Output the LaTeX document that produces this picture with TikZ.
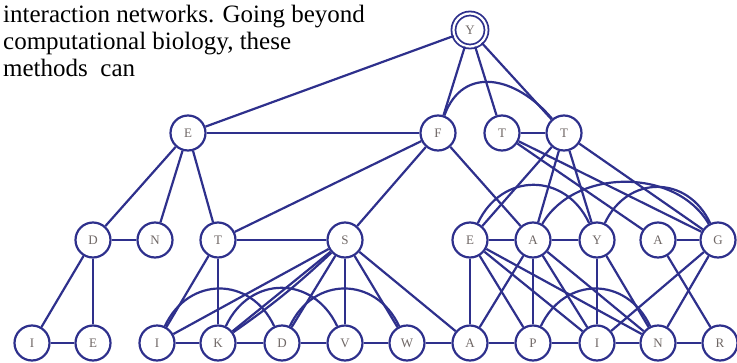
\documentclass[tikz,border=0pt]{standalone}
\usepackage{fontspec}
\setmainfont{Liberation Serif}
\usepackage{xcolor}
\definecolor{netblue}{RGB}{46,48,140}
\definecolor{labelgray}{RGB}{112,104,102}

\begin{document}
\begin{tikzpicture}[x=1pt, y=-1pt,
    vertex/.style={circle, draw=netblue, line width=2.2pt, fill=white,
        minimum size=35pt, inner sep=0pt, text=labelgray,
        font=\fontsize{13}{13}\selectfont},
    link/.style={netblue, line width=2.2pt},
    hop/.style={out=65, in=115, looseness=1.3},
    textline/.style={anchor=base west, inner sep=0pt,
        font=\fontsize{25}{27}\selectfont}]
    \useasboundingbox (0,0) rectangle (737,362);

    % Text running round the picture
    \node[textline] (line1) at (3,22) {interaction networks. Going beyond};
    \node[textline] (line2) at (3,49) {computational biology, these};
    \node[textline] (line3) at (3,76) {methods\ \ can};

    % The root, drawn with a double ring
    \node[vertex, minimum size=33pt, line width=1.8pt, double=white,
        double distance=2.2pt] (r1y) at (470,30) {Y};

    % Place the nodes row by row
    \foreach \n/\x/\l in {r2e/188/E, r2f/438/F, r2t/502/T, r2tt/564/T} {
        \node[vertex] (\n) at (\x,133) {\l};
    }
    \foreach \n/\x/\l in {r3d/93/D, r3n/155/N, r3t/218/T, r3s/345/S,
        r3e/470/E, r3a/533/A, r3y/597/Y, r3aa/658/A, r3g/718/G} {
        \node[vertex] (\n) at (\x,240) {\l};
    }
    \foreach \n/\x/\l in {r4i/32/I, r4e/93/E, r4ii/157/I, r4k/218/K,
        r4d/282/D, r4v/345/V, r4w/407/W, r4a/470/A, r4p/533/P,
        r4iii/597/I, r4n/658/N, r4r/720/R} {
        \node[vertex] (\n) at (\x,343) {\l};
    }

    % Edges from the top two rows
    \draw[link] (r1y) -- (r2e);
    \draw[link] (r1y) -- (r2f);
    \draw[link] (r1y) -- (r2t);
    \draw[link] (r1y) -- (r2tt);
    \draw[link] (r2f) to[out=70, in=130, looseness=1.3] (r2tt);
    \draw[link] (r2e) -- (r2f);
    \draw[link] (r2t) -- (r2tt);
    \foreach \a/\b in {r2e/r3d, r2e/r3n, r2e/r3t, r2f/r3t, r2f/r3s,
        r2f/r3a, r2t/r3aa, r2t/r3g, r2tt/r3e, r2tt/r3a, r2tt/r3y,
        r2tt/r3g} {
        \draw[link] (\a) -- (\b);
    }

    % Left half, rows three and four
    \foreach \a/\b in {r3d/r3n, r3t/r3s, r3d/r4i, r3d/r4e, r3t/r4ii,
        r3t/r4k, r3s/r4ii, r3s/r4k, r3s/r4d, r3s/r4v, r3s/r4w, r3s/r4a} {
        \draw[link] (\a) -- (\b);
    }
    \draw[link] (r3s) to[bend left=4] (r4k);
    \draw[link] (r4ii) to[hop] (r4d);
    \draw[link] (r4k) to[hop] (r4v);
    \draw[link] (r4d) to[hop] (r4w);

    % Right half, rows three and four
    \foreach \a/\b in {r3e/r3a, r3a/r3y, r3aa/r3g, r3e/r4a, r3e/r4p,
        r3e/r4iii, r3e/r4n, r3a/r4a, r3a/r4p, r3a/r4iii, r3a/r4n,
        r3y/r4iii, r3y/r4n, r3aa/r4r, r3g/r4iii, r3g/r4n} {
        \draw[link] (\a) -- (\b);
    }
    \draw[link] (r3e) to[hop] (r3y);
    \draw[link] (r3y) to[hop] (r3g);
    \draw[link] (r3a) to[out=60, in=120] (r3g);
    \draw[link] (r4p) to[hop] (r4n);

    % Bottom row
    \foreach \a/\b in {r4i/r4e, r4ii/r4k, r4k/r4d, r4d/r4v, r4v/r4w,
        r4w/r4a, r4a/r4p, r4p/r4iii, r4iii/r4n, r4n/r4r} {
        \draw[link] (\a) -- (\b);
    }
\end{tikzpicture}
\end{document}
